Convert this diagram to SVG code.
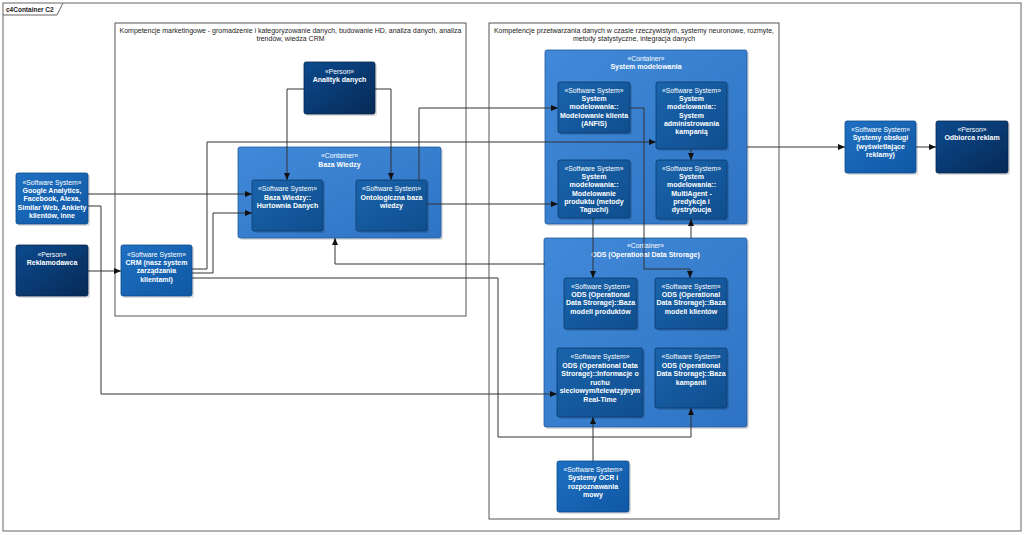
<svg xmlns="http://www.w3.org/2000/svg" width="1024" height="535" viewBox="0 0 1024 535">
<defs>
<linearGradient id="gPerson" x1="0" y1="0" x2="1" y2="1"><stop offset="0" stop-color="#0c4a8e"/><stop offset="1" stop-color="#062a56"/></linearGradient>
<linearGradient id="gSys" x1="0" y1="0" x2="1" y2="1"><stop offset="0" stop-color="#1f70c2"/><stop offset="1" stop-color="#0f58a4"/></linearGradient>
<linearGradient id="gCont" x1="0" y1="0" x2="1" y2="1"><stop offset="0" stop-color="#4189d8"/><stop offset="1" stop-color="#2f74c4"/></linearGradient>
<linearGradient id="gInner" x1="0" y1="0" x2="1" y2="1"><stop offset="0" stop-color="#1a64ac"/><stop offset="1" stop-color="#0f4e8e"/></linearGradient>
<marker id="arr" markerUnits="userSpaceOnUse" markerWidth="8" markerHeight="8" refX="7" refY="3" orient="auto"><path d="M0,0 L7,3 L0,6 z" fill="#111"/></marker>
</defs>
<style>
.frame{fill:#fff;stroke:#666;stroke-width:1}
.bnd{fill:none;stroke:#555;stroke-width:1}
.btitle{font-family:"Liberation Sans",Arial,sans-serif;font-size:7px;fill:#222;text-anchor:middle}
.shadow{fill:#000;opacity:0.13}
.person{fill:url(#gPerson);stroke:#05254a;stroke-width:0.8}
.sys{fill:url(#gSys);stroke:#0b4a8a;stroke-width:0.8}
.cont{fill:url(#gCont);stroke:#23599a;stroke-width:0.8}
.inner{fill:url(#gInner);stroke:#0a3a6e;stroke-width:0.8}
.st{font-family:"Liberation Sans",Arial,sans-serif;font-size:6.8px;fill:#fff;text-anchor:middle}
.nm{font-family:"Liberation Sans",Arial,sans-serif;font-size:7px;font-weight:bold;fill:#fff;text-anchor:middle}
.conn path{fill:none;stroke:#333;stroke-width:1}
.lbl{font-family:"Liberation Sans",Arial,sans-serif;font-size:6.5px;font-weight:bold;fill:#222}
</style>
<rect x="0" y="0" width="1024" height="535" fill="#fff"/>
<g id="frame">
<rect class="frame" x="3" y="3" width="1018" height="528"/>
<path d="M3,15 H57 L63,3" fill="none" stroke="#666" stroke-width="1"/>
<text class="lbl" x="6" y="11.5">c4Container C2</text>
</g>
<g id="boundary-marketing">
<rect class="bnd" x="115" y="23" width="351" height="293"/>
<text class="btitle" x="290.5" y="32.5">Kompetencje marketingowe - gromadzenie i kategoryzowanie danych, budowanie HD, analiza danych, analiza</text>
<text class="btitle" x="290.5" y="41">trendów, wiedza CRM</text>
</g>
<g id="boundary-processing">
<rect class="bnd" x="489" y="23" width="290" height="496"/>
<text class="btitle" x="634" y="32.5">Kompetencje przetwarzania danych w czasie rzeczywistym, systemy neuronowe, rozmyte,</text>
<text class="btitle" x="634" y="41">metody statystyczne, integracja danych</text>
</g>
<g id="container-baza-wiedzy">
<rect class="shadow" x="240" y="149" width="203" height="91" rx="2"/>
<rect class="cont" x="238" y="147" width="203" height="91" rx="2"/>
<text class="st" x="339.5" y="158">«Container»</text>
<text class="nm" x="339.5" y="166.5">Baza Wiedzy</text>
</g>
<g id="container-system-modelowania">
<rect class="shadow" x="547" y="52" width="202" height="174" rx="2"/>
<rect class="cont" x="545" y="50" width="202" height="174" rx="2"/>
<text class="st" x="646" y="61">«Container»</text>
<text class="nm" x="646" y="69">System modelowania</text>
</g>
<g id="container-ods">
<rect class="shadow" x="546" y="240" width="203" height="189" rx="2"/>
<rect class="cont" x="544" y="238" width="203" height="189" rx="2"/>
<text class="st" x="645.5" y="248">«Container»</text>
<text class="nm" x="645.5" y="257">ODS (Operational Data Strorage)</text>
</g>
<g id="connectors" class="conn">
<path d="M304,89 H287 V180" marker-end="url(#arr)"/>
<path d="M375,89 H391 V180" marker-end="url(#arr)"/>
<path d="M419,180 V108 H558" marker-end="url(#arr)"/>
<path d="M427,204 H558" marker-end="url(#arr)"/>
<path d="M88,194 H252" marker-end="url(#arr)"/>
<path d="M88,206 H101 V394 H557" marker-end="url(#arr)"/>
<path d="M88,271 H121" marker-end="url(#arr)"/>
<path d="M192,269 H207 V142 H656" marker-end="url(#arr)"/>
<path d="M192,273 H213 V213 H252" marker-end="url(#arr)"/>
<path d="M192,278 H498 V437 H691 V408" marker-end="url(#arr)"/>
<path d="M545,264 H335 V238" marker-end="url(#arr)"/>
<path d="M593,218 V278" marker-end="url(#arr)"/>
<path d="M630,108 H644 V269 H690 V278" marker-end="url(#arr)"/>
<path d="M691,238 V219" marker-end="url(#arr)"/>
<path d="M691,149 V160" marker-end="url(#arr)"/>
<path d="M747,147 H845" marker-end="url(#arr)"/>
<path d="M916,147 H936" marker-end="url(#arr)"/>
<path d="M593,461 V417" marker-end="url(#arr)"/>
</g>
<g id="google-analytics">
<rect class="shadow" x="18" y="175" width="72" height="51" rx="2"/>
<rect class="sys" x="16" y="173" width="72" height="51" rx="2"/>
<text class="st" x="52" y="185">«Software System»</text>
<text class="nm" x="52" y="192.5">Google Analytics,</text>
<text class="nm" x="52" y="201">Facebook, Alexa,</text>
<text class="nm" x="52" y="209.5" textLength="69" lengthAdjust="spacingAndGlyphs">Similar Web, Ankiety</text>
<text class="nm" x="52" y="218">klientów, inne</text>
</g>
<g id="reklamodawca">
<rect class="shadow" x="18" y="247" width="72" height="51" rx="2"/>
<rect class="person" x="16" y="245" width="72" height="51" rx="2"/>
<text class="st" x="52" y="256.5">«Person»</text>
<text class="nm" x="52" y="264.5">Reklamodawca</text>
</g>
<g id="crm">
<rect class="shadow" x="123" y="247" width="71" height="51" rx="2"/>
<rect class="sys" x="121" y="245" width="71" height="51" rx="2"/>
<text class="st" x="156.5" y="256.5">«Software System»</text>
<text class="nm" x="156.5" y="264.5">CRM (nasz system</text>
<text class="nm" x="156.5" y="273">zarządzania</text>
<text class="nm" x="156.5" y="281.5">klientami)</text>
</g>
<g id="analityk-danych">
<rect class="shadow" x="306" y="64" width="71" height="52" rx="2"/>
<rect class="person" x="304" y="62" width="71" height="52" rx="2"/>
<text class="st" x="339.5" y="73.5">«Person»</text>
<text class="nm" x="339.5" y="81.5">Analityk danych</text>
</g>
<g id="hurtownia-danych">
<rect class="shadow" x="254" y="182" width="71" height="51" rx="2"/>
<rect class="inner" x="252" y="180" width="71" height="51" rx="2"/>
<text class="st" x="287.5" y="191">«Software System»</text>
<text class="nm" x="287.5" y="199.5">Baza Wiedzy::</text>
<text class="nm" x="287.5" y="208">Hurtownia Danych</text>
</g>
<g id="ontologiczna-baza-wiedzy">
<rect class="shadow" x="358" y="182" width="71" height="51" rx="2"/>
<rect class="inner" x="356" y="180" width="71" height="51" rx="2"/>
<text class="st" x="391.5" y="191">«Software System»</text>
<text class="nm" x="391.5" y="199.5">Ontologiczna baza</text>
<text class="nm" x="391.5" y="208">wiedzy</text>
</g>
<g id="modelowanie-klienta">
<rect class="shadow" x="560" y="84" width="72" height="51" rx="2"/>
<rect class="inner" x="558" y="82" width="72" height="51" rx="2"/>
<text class="st" x="594" y="92.5">«Software System»</text>
<text class="nm" x="594" y="101">System</text>
<text class="nm" x="594" y="109.3">modelowania::</text>
<text class="nm" x="594" y="117.6">Modelowanie klienta</text>
<text class="nm" x="594" y="125.9">(ANFIS)</text>
</g>
<g id="system-administrowania-kampania">
<rect class="shadow" x="658" y="84" width="71" height="67" rx="2"/>
<rect class="inner" x="656" y="82" width="71" height="67" rx="2"/>
<text class="st" x="691.5" y="92.5">«Software System»</text>
<text class="nm" x="691.5" y="101">System</text>
<text class="nm" x="691.5" y="109.3">modelowania::</text>
<text class="nm" x="691.5" y="117.6">System</text>
<text class="nm" x="691.5" y="125.9">administrowania</text>
<text class="nm" x="691.5" y="134.2">kampanią</text>
</g>
<g id="modelowanie-produktu">
<rect class="shadow" x="560" y="162" width="72" height="58" rx="2"/>
<rect class="inner" x="558" y="160" width="72" height="58" rx="2"/>
<text class="st" x="594" y="170.5">«Software System»</text>
<text class="nm" x="594" y="179">System</text>
<text class="nm" x="594" y="187.3">modelowania::</text>
<text class="nm" x="594" y="195.6">Modelowanie</text>
<text class="nm" x="594" y="203.9">produktu (metody</text>
<text class="nm" x="594" y="212.2">Taguchi)</text>
</g>
<g id="multiagent">
<rect class="shadow" x="658" y="162" width="71" height="59" rx="2"/>
<rect class="inner" x="656" y="160" width="71" height="59" rx="2"/>
<text class="st" x="691.5" y="170.5">«Software System»</text>
<text class="nm" x="691.5" y="179">System</text>
<text class="nm" x="691.5" y="187.3">modelowania::</text>
<text class="nm" x="691.5" y="195.6">MultiAgent -</text>
<text class="nm" x="691.5" y="203.9">predykcja i</text>
<text class="nm" x="691.5" y="212.2">dystrybucja</text>
</g>
<g id="baza-modeli-produktow">
<rect class="shadow" x="566" y="280" width="73" height="51" rx="2"/>
<rect class="inner" x="564" y="278" width="73" height="51" rx="2"/>
<text class="st" x="600.5" y="288.5">«Software System»</text>
<text class="nm" x="600.5" y="297">ODS (Operational</text>
<text class="nm" x="600.5" y="305.4">Data Strorage)::Baza</text>
<text class="nm" x="600.5" y="313.8">modeli produktów</text>
</g>
<g id="baza-modeli-klientow">
<rect class="shadow" x="657" y="280" width="72" height="51" rx="2"/>
<rect class="inner" x="655" y="278" width="72" height="51" rx="2"/>
<text class="st" x="691" y="288.5">«Software System»</text>
<text class="nm" x="691" y="297">ODS (Operational</text>
<text class="nm" x="691" y="305.4">Data Strorage)::Baza</text>
<text class="nm" x="691" y="313.8">modeli klientów</text>
</g>
<g id="informacje-o-ruchu">
<rect class="shadow" x="559" y="350" width="86" height="69" rx="2"/>
<rect class="inner" x="557" y="348" width="86" height="69" rx="2"/>
<text class="st" x="600" y="358.5">«Software System»</text>
<text class="nm" x="600" y="367.5">ODS (Operational Data</text>
<text class="nm" x="600" y="376">Strorage)::Informacje o</text>
<text class="nm" x="600" y="384.5">ruchu</text>
<text class="nm" x="600" y="393">sieciowym/telewizyjnym</text>
<text class="nm" x="600" y="401.5">Real-Time</text>
</g>
<g id="baza-kampanii">
<rect class="shadow" x="657" y="350" width="72" height="60" rx="2"/>
<rect class="inner" x="655" y="348" width="72" height="60" rx="2"/>
<text class="st" x="691" y="358.5">«Software System»</text>
<text class="nm" x="691" y="367.5">ODS (Operational</text>
<text class="nm" x="691" y="376">Data Strorage)::Baza</text>
<text class="nm" x="691" y="384.5">kampanii</text>
</g>
<g id="systemy-ocr">
<rect class="shadow" x="559" y="463" width="72" height="51" rx="2"/>
<rect class="sys" x="557" y="461" width="72" height="51" rx="2"/>
<text class="st" x="593" y="471.5">«Software System»</text>
<text class="nm" x="593" y="480">Systemy OCR i</text>
<text class="nm" x="593" y="488.5">rozpoznawania</text>
<text class="nm" x="593" y="497">mowy</text>
</g>
<g id="systemy-obslugi">
<rect class="shadow" x="847" y="123" width="71" height="52" rx="2"/>
<rect class="sys" x="845" y="121" width="71" height="52" rx="2"/>
<text class="st" x="880.5" y="131.5">«Software System»</text>
<text class="nm" x="880.5" y="140">Systemy obsługi</text>
<text class="nm" x="880.5" y="148.5">(wyświetlające</text>
<text class="nm" x="880.5" y="157">reklamy)</text>
</g>
<g id="odbiorca-reklam">
<rect class="shadow" x="938" y="123" width="72" height="52" rx="2"/>
<rect class="person" x="936" y="121" width="72" height="52" rx="2"/>
<text class="st" x="972" y="131.5">«Person»</text>
<text class="nm" x="972" y="140">Odbiorca reklam</text>
</g>
</svg>
